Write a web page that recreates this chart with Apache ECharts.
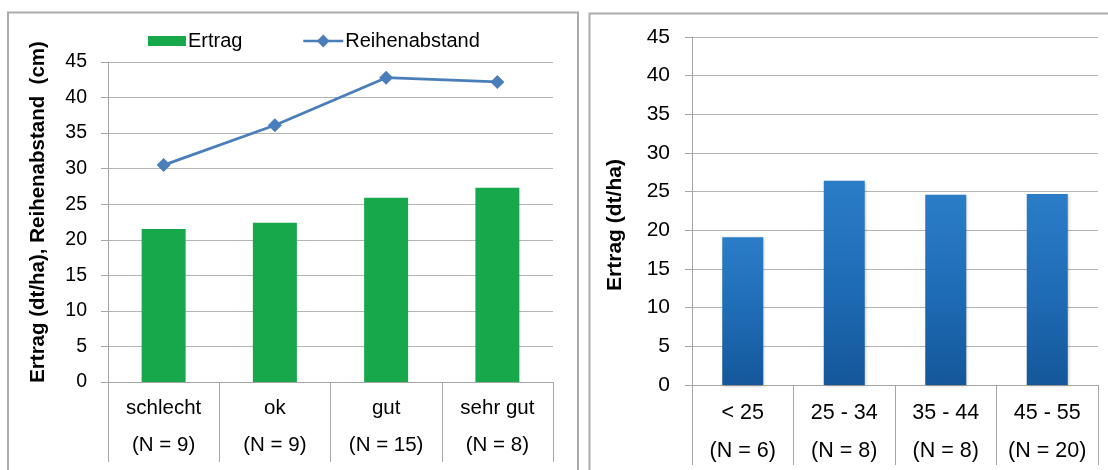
<!DOCTYPE html>
<html>
<head>
<meta charset="utf-8">
<script src="https://cdn.jsdelivr.net/npm/echarts@6/dist/echarts.min.js"></script>
<style>
  html, body { margin: 0; padding: 0; background: #fff; }
  #chart { width: 1108px; height: 470px; }
</style>
</head>
<body>
<div id="chart"></div>
<script>
// Ertrag und Reihenabstand nach Bestandsbewertung
const qualityCats = ['schlecht', 'ok', 'gut', 'sehr gut'];
const qualityN = ['(N = 9)', '(N = 9)', '(N = 15)', '(N = 8)'];
const ertragByQuality = [21.5, 22.4, 25.9, 27.3];
const reihenabstand = [30.5, 36.1, 42.8, 42.2];

// Ertrag nach Reihenabstandsklasse (cm)
const spacingCats = ['< 25', '25 - 34', '35 - 44', '45 - 55'];
const spacingN = ['(N = 6)', '(N = 8)', '(N = 8)', '(N = 20)'];
const ertragBySpacing = [19.1, 26.4, 24.6, 24.7];

// Wertachse 0 bis 45 in 5er-Schritten
const yMin = 0, yMax = 45, yStep = 5;

const FONT = '"Liberation Sans", Arial, sans-serif';
const GRID_COLOR = '#b4b4b4';
const AXIS_COLOR = '#a6a6a6';
const FRAME_COLOR = '#ababab';
const LINE_BLUE = '#4a7ebb';

const chart = echarts.init(document.getElementById('chart'), null, { renderer: 'canvas' });

function valueAxis(gridIndex, name, gap, pad, margin, labelSize, nameSize) {
  return {
    type: 'value', gridIndex, min: yMin, max: yMax, interval: yStep,
    name, nameLocation: 'middle', nameGap: gap, nameRotate: 90,
    nameTextStyle: { fontFamily: FONT, fontWeight: 'bold', fontSize: nameSize, color: '#000', padding: pad },
    axisLine: { show: true, lineStyle: { color: AXIS_COLOR, width: 1 } },
    axisTick: { show: true, length: 7, lineStyle: { color: AXIS_COLOR } },
    axisLabel: { fontFamily: FONT, fontSize: labelSize, color: '#000', margin: margin },
    splitLine: { show: true, lineStyle: { color: GRID_COLOR, width: 1 } }
  };
}

function categoryAxis(gridIndex, cats, ns, tickLen, lh, margin, size) {
  return {
    type: 'category', gridIndex, data: cats, boundaryGap: true,
    axisLine: { show: true, lineStyle: { color: AXIS_COLOR, width: 1 } },
    axisTick: { show: true, length: tickLen, interval: 0, lineStyle: { color: AXIS_COLOR } },
    axisLabel: {
      interval: 0, margin: margin, fontFamily: FONT, fontSize: size, color: '#000', lineHeight: lh,
      formatter: (v, i) => v + '\n' + ns[i]
    }
  };
}

const legendText = { fontFamily: FONT, fontSize: 20, color: '#000', padding: [0, 0, 0, -3] };

const option = {
  animation: false,
  backgroundColor: '#fff',
  textStyle: { fontFamily: FONT },
  graphic: [
    { type: 'rect', shape: { x: 8, y: 12.5, width: 570, height: 520 }, style: { fill: 'none', stroke: FRAME_COLOR, lineWidth: 2 }, silent: true },
    { type: 'rect', shape: { x: 589.5, y: 13.5, width: 600, height: 520 }, style: { fill: 'none', stroke: FRAME_COLOR, lineWidth: 2 }, silent: true }
  ],
  legend: [
    {
      left: 148, top: 31, padding: 0, itemWidth: 38, itemHeight: 10,
      textStyle: legendText, data: [{ name: 'Ertrag', icon: 'rect' }]
    },
    {
      left: 302, top: 31, padding: 0, itemWidth: 40, itemHeight: 16,
      lineStyle: { width: 2.5, color: LINE_BLUE },
      textStyle: legendText, data: ['Reihenabstand']
    }
  ],
  grid: [
    { left: 108, right: 555, top: 62, bottom: 88 },
    { left: 692, right: 10, top: 37, bottom: 85 }
  ],
  xAxis: [
    categoryAxis(0, qualityCats, qualityN, 80, 37, 8, 20.5),
    categoryAxis(1, spacingCats, spacingN, 80, 38, 9, 21.5)
  ],
  yAxis: [
    valueAxis(0, 'Ertrag (dt/ha), Reihenabstand  (cm)', 59, [0, 0, 0, 20], 21, 19.5, 20.5),
    valueAxis(1, 'Ertrag (dt/ha)', 66, [0, 28, 0, 0], 22, 21, 21)
  ],
  series: [
    {
      name: 'Ertrag', type: 'bar', xAxisIndex: 0, yAxisIndex: 0,
      data: ertragByQuality, barWidth: 44,
      itemStyle: { color: '#17a84b' }
    },
    {
      name: 'Reihenabstand', type: 'line', xAxisIndex: 0, yAxisIndex: 0,
      data: reihenabstand, symbol: 'diamond', symbolSize: 14,
      lineStyle: { color: LINE_BLUE, width: 2.75 },
      itemStyle: { color: LINE_BLUE }
    },
    {
      name: 'Ertrag nach Reihenabstand', type: 'bar', xAxisIndex: 1, yAxisIndex: 1,
      data: ertragBySpacing, barWidth: 41,
      itemStyle: {
        color: new echarts.graphic.LinearGradient(0, 0, 0, 1, [
          { offset: 0, color: '#2b7dc8' },
          { offset: 0.5, color: '#1f6cb6' },
          { offset: 1, color: '#14579a' }
        ]),
        shadowColor: 'rgba(0,0,0,0.25)', shadowBlur: 3, shadowOffsetX: 1, shadowOffsetY: 1
      }
    }
  ]
};

chart.setOption(option);
</script>
</body>
</html>
